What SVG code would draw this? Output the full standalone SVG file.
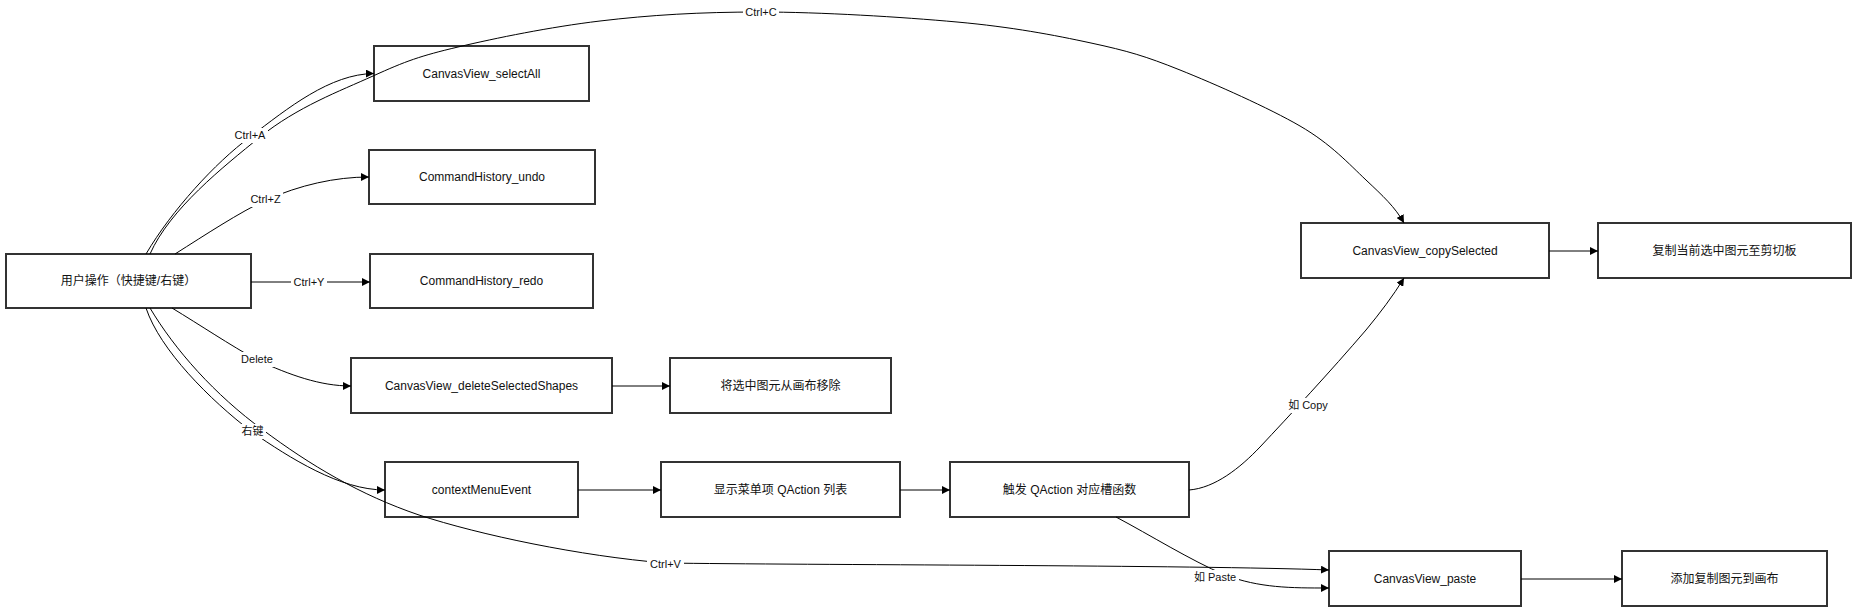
<svg xmlns="http://www.w3.org/2000/svg" width="1856" height="612" viewBox="0 0 1856 612">
<defs>
<marker id="arrow" viewBox="0 0 10 10" refX="10" refY="5" markerWidth="8" markerHeight="8" markerUnits="userSpaceOnUse" orient="auto"><path d="M0,0 L10,5 L0,10 z" fill="#000"/></marker>
</defs>
<style>
.node rect{fill:#fff;stroke:#333;stroke-width:2}
.node text{font-family:"Liberation Sans",Arial,"Noto Sans CJK SC",sans-serif;font-size:12px;fill:#111;text-anchor:middle}
.edge{fill:none;stroke:#000;stroke-width:1;marker-end:url(#arrow)}
.lbl rect{fill:#fff;stroke:none}
.lbl text{font-family:"Liberation Sans",Arial,"Noto Sans CJK SC",sans-serif;font-size:11px;fill:#111;text-anchor:middle}
</style>
<rect x="0" y="0" width="1856" height="612" fill="#fff"/>
<g id="nodes">
<g id="user" class="node"><rect x="6" y="254" width="245" height="54"/><text x="128.5" y="285">用户操作（快捷键/右键）</text></g>
<g id="selectAll" class="node"><rect x="374" y="46" width="215" height="55"/><text x="481.5" y="77.5">CanvasView_selectAll</text></g>
<g id="undo" class="node"><rect x="369" y="150" width="226" height="54"/><text x="482" y="181">CommandHistory_undo</text></g>
<g id="redo" class="node"><rect x="370" y="254" width="223" height="54"/><text x="481.5" y="285">CommandHistory_redo</text></g>
<g id="deleteShapes" class="node"><rect x="351" y="358" width="261" height="55"/><text x="481.5" y="389.5">CanvasView_deleteSelectedShapes</text></g>
<g id="contextMenu" class="node"><rect x="385" y="462" width="193" height="55"/><text x="481.5" y="493.5">contextMenuEvent</text></g>
<g id="removeShapes" class="node"><rect x="670" y="358" width="221" height="55"/><text x="780.5" y="389.5">将选中图元从画布移除</text></g>
<g id="showMenu" class="node"><rect x="661" y="462" width="239" height="55"/><text x="780.5" y="493.5">显示菜单项 QAction 列表</text></g>
<g id="triggerAction" class="node"><rect x="950" y="462" width="239" height="55"/><text x="1069.5" y="493.5">触发 QAction 对应槽函数</text></g>
<g id="copySelected" class="node"><rect x="1301" y="223" width="248" height="55"/><text x="1425" y="254.5">CanvasView_copySelected</text></g>
<g id="copyToClipboard" class="node"><rect x="1598" y="223" width="253" height="55"/><text x="1724.5" y="254.5">复制当前选中图元至剪切板</text></g>
<g id="paste" class="node"><rect x="1329" y="551" width="192" height="55"/><text x="1425" y="582.5">CanvasView_paste</text></g>
<g id="addShapes" class="node"><rect x="1622" y="551" width="205" height="55"/><text x="1724.5" y="582.5">添加复制图元到画布</text></g>
</g>
<g id="connectors">
<path class="edge" d="M146,254 C172,210 215,163 250,137 C288,108 330,74 374,73.5"/>
<path class="edge" d="M150,254 C170,209 223,167 260,137 C297,107 340,91 373,76 C406,61 420,56 458,47 C496,38 550,27 600,21 C650,15 700,12 760,12 C820,12 902,17 957,22 C1012,27 1054,35 1091,43 C1128,51 1145,56 1180,70 C1215,84 1269,108 1300,126 C1331,144 1349,164 1366,180 C1383,196 1395,207 1404,223"/>
<path class="edge" d="M175,254 C205,235 240,212 266,200 C300,185 335,177 369,177"/>
<path class="edge" d="M251,282 L370,282"/>
<path class="edge" d="M172,308 C200,325 230,345 257,360 C290,375 320,386 351,386"/>
<path class="edge" d="M146,308 C160,350 210,400 252,432 C290,458 340,490 385,490"/>
<path class="edge" d="M150,308 C175,350 215,395 263,430 C310,465 360,495 419,515 C480,535 580,556 665,563 C800,565 1200,565 1329,570"/>
<path class="edge" d="M612,386 L670,386"/>
<path class="edge" d="M578,490 L661,490"/>
<path class="edge" d="M900,490 L950,490"/>
<path class="edge" d="M1189,490 C1215,488 1240,468 1260,447 C1290,415 1330,372 1366,330 C1380,313 1393,296 1404,278"/>
<path class="edge" d="M1116,517 C1150,535 1190,560 1225,575 C1260,588 1290,588 1329,588"/>
<path class="edge" d="M1549,251 L1598,251"/>
<path class="edge" d="M1521,579 L1622,579"/>
</g>
<g id="edge-labels">
<g class="lbl"><rect x="232" y="128" width="36" height="15"/><text x="250" y="139">Ctrl+A</text></g>
<g class="lbl"><rect x="743" y="5" width="36" height="15"/><text x="761" y="16">Ctrl+C</text></g>
<g class="lbl"><rect x="248" y="192" width="35" height="15"/><text x="265.5" y="203">Ctrl+Z</text></g>
<g class="lbl"><rect x="291" y="275" width="36" height="15"/><text x="309" y="286">Ctrl+Y</text></g>
<g class="lbl"><rect x="239" y="352" width="36" height="15"/><text x="257" y="363">Delete</text></g>
<g class="lbl"><rect x="239" y="424" width="27" height="15"/><text x="252.5" y="435">右键</text></g>
<g class="lbl"><rect x="647" y="557" width="37" height="15"/><text x="665.5" y="568">Ctrl+V</text></g>
<g class="lbl"><rect x="1285" y="398" width="46" height="15"/><text x="1308" y="409">如 Copy</text></g>
<g class="lbl"><rect x="1191" y="570" width="48" height="15"/><text x="1215" y="581">如 Paste</text></g>
</g>
</svg>
